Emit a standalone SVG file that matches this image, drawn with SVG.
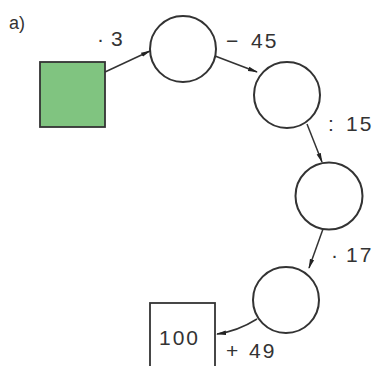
<svg xmlns="http://www.w3.org/2000/svg" width="374" height="366" viewBox="0 0 374 366">
<defs>
<marker id="ah" markerWidth="10" markerHeight="6" refX="9" refY="3" orient="auto" markerUnits="userSpaceOnUse">
<path d="M0,0.8 L10,3 L0,5.2 Z" fill="#222"/>
</marker>
<style>
.c{fill:#fff;stroke:#333;stroke-width:2}
.b{stroke:#333;stroke-width:1.8}
.t{font-family:"Liberation Sans",Arial,sans-serif;font-size:21px;fill:#333;letter-spacing:2px}
.e{fill:none;stroke:#333;stroke-width:1.5;marker-end:url(#ah)}
</style>
</defs>
<rect width="374" height="366" fill="#fff"/>
<text class="t" x="9" y="29" style="font-size:18px;letter-spacing:0">a)</text>
<g id="start">
<rect x="40" y="62" width="65" height="65" fill="#80c480" class="b"/>
</g>
<g id="c1"><circle class="c" cx="183" cy="49" r="33"/></g>
<g id="c2"><circle class="c" cx="287" cy="95" r="33"/></g>
<g id="c3"><circle class="c" cx="329" cy="196" r="33.5"/></g>
<g id="c4"><circle class="c" cx="286" cy="300" r="33"/></g>
<g id="end">
<rect x="150" y="303" width="65" height="70" fill="#fff" class="b"/>
<text class="t" x="159" y="345">100</text>
</g>
<g id="connectors">
<path class="e" d="M105,72 L150,51"/>
<path class="e" d="M215,56 L257,72"/>
<path class="e" d="M307,124 L322,162"/>
<path class="e" d="M323,229 L309,268"/>
<path class="e" d="M257,319 Q238,331 217,334"/>
</g>
<g id="labels">
<text class="t" x="97" y="46">·<tspan x="111">3</tspan></text>
<text class="t" x="226" y="48">−<tspan x="251">45</tspan></text>
<text class="t" x="328" y="131">:<tspan x="346">15</tspan></text>
<text class="t" x="331" y="262">·<tspan x="346">17</tspan></text>
<text class="t" x="226" y="358">+<tspan x="249">49</tspan></text>
</g>
</svg>
